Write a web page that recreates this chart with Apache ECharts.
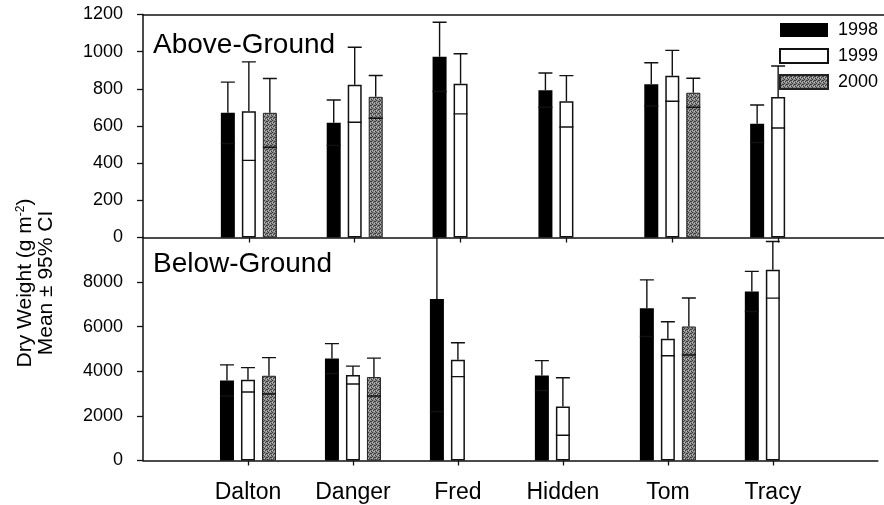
<!DOCTYPE html>
<html><head><meta charset="utf-8">
<script src="https://cdn.jsdelivr.net/npm/echarts@6/dist/echarts.min.js"></script>
<style>html,body{margin:0;padding:0;background:#fff}#c{width:884px;height:505px}</style>
</head><body><div id="c"></div>
<script>
// ---- data ----
var categories = ['Dalton', 'Danger', 'Fred', 'Hidden', 'Tom', 'Tracy'];
var years = ['1998', '1999', '2000'];
var aboveTicks = [0, 200, 400, 600, 800, 1000, 1200];
var belowTicks = [0, 2000, 4000, 6000, 8000];

var above1998 = [671, 618, 972, 793, 824, 612];
var above1998CI = [165, 122, 186, 92, 116, 101];
var above1999 = [680, 822, 827, 733, 870, 756];
var above1999CI = [265, 202, 162, 138, 137, 167];
var above2000 = [671, 757, null, null, 779, null];
var above2000CI = [185, 115, null, null, 78, null];

var below1998 = [3590, 4570, 7240, 3810, 6830, 7580];
var below1998CI = [700, 670, 5040, 670, 1270, 900];
var below1999 = [3620, 3830, 4520, 2420, 5460, 8550];
var below1999CI = [545, 400, 760, 1290, 760, 1270];
var below2000 = [3800, 3740, null, null, 6010, null];
var below2000CI = [815, 850, null, null, 1280, null];

// ---- styles ----
var FONT = "'Liberation Sans', Arial, Helvetica, sans-serif";
var INK = '#111';
var BAR_W = 14, BAR_STEP = 21;
var chart = echarts.init(document.getElementById('c'), null, { renderer: 'canvas' });
window.chart = chart;

try {
var pc = document.createElement('canvas');
pc.width = 4; pc.height = 4;
var pctx = pc.getContext('2d');
pctx.fillStyle = '#8a8a8a'; pctx.fillRect(0, 0, 4, 4);
pctx.fillStyle = '#3a3a3a';
[[0,0],[2,1],[1,2],[3,3],[3,1]].forEach(function (p) { pctx.fillRect(p[0], p[1], 1, 1); });
pctx.fillStyle = '#bdbdbd';
[[2,3],[0,2]].forEach(function (p) { pctx.fillRect(p[0], p[1], 1, 1); });

var yearStyles = [
  { color: '#000', borderColor: '#000', borderWidth: 0 },
  { color: '#fff', borderColor: INK, borderWidth: 1.5 },
  { color: { image: pc, repeat: 'repeat' }, borderColor: '#222', borderWidth: 1 }
];

var axisCats = [''].concat(categories, [' ']);
var panels = [
  { means: [above1998, above1999, above2000], cis: [above1998CI, above1999CI, above2000CI] },
  { means: [below1998, below1999, below2000], cis: [below1998CI, below1999CI, below2000CI] }
];

function makeRender(k) {
  return function (params, api) {
    var x = api.value(0), m = api.value(1), ci = api.value(2);
    var off = (k - 1) * BAR_STEP;
    var pm = api.coord([x, m]);
    var pu = api.coord([x, m + ci]);
    var pl = api.coord([x, m - ci]);
    var cx = pm[0] + off;
    var st = { stroke: INK, lineWidth: 1.4 };
    return {
      type: 'group', children: [
        { type: 'line', shape: { x1: cx, y1: pm[1], x2: cx, y2: pu[1] }, style: st },
        { type: 'line', shape: { x1: cx - BAR_W / 2, y1: pu[1], x2: cx + BAR_W / 2, y2: pu[1] }, style: st },
        { type: 'line', shape: { x1: cx - BAR_W / 2, y1: pl[1], x2: cx + BAR_W / 2, y2: pl[1] }, style: st }
      ]
    };
  };
}

var series = [];
panels.forEach(function (p, gi) {
  years.forEach(function (y, k) {
    series.push({
      name: y, type: 'bar', xAxisIndex: gi, yAxisIndex: gi,
      barWidth: BAR_W, barGap: '50%',
      itemStyle: yearStyles[k],
      data: categories.map(function (c, i) { return [i + 1, p.means[k][i]]; }).filter(function (d) { return d[1] != null; }),
      z: 2, silent: true
    });
  });
  years.forEach(function (y, k) {
    series.push({
      name: y + ' CI', type: 'custom', xAxisIndex: gi, yAxisIndex: gi, clip: true, z: 5, silent: true,
      data: categories.map(function (c, i) { return [i + 1, p.means[k][i], p.cis[k][i]]; }).filter(function (d) { return d[1] != null; }),
      renderItem: makeRender(k)
    });
  });
});

var axisLine = { show: true, lineStyle: { color: INK, width: 1.5 } };
function tickInner(i) { return i > 0 && i < axisCats.length - 1; }

var option = {
  animation: false,
  backgroundColor: '#fff',
  textStyle: { fontFamily: FONT, color: '#000' },
  grid: [
    { left: 143, top: 14.5, width: 742, height: 223 },
    { left: 143, top: 237.5, width: 742, height: 223 }
  ],
  xAxis: [
    { type: 'category', gridIndex: 0, data: axisCats, boundaryGap: false, axisLine: axisLine,
      axisTick: { show: true, inside: false, length: 5, interval: tickInner, lineStyle: { color: INK, width: 1.3 } },
      axisLabel: { show: false }, splitLine: { show: false } },
    { type: 'category', gridIndex: 1, data: axisCats, boundaryGap: false, axisLine: axisLine,
      axisTick: { show: true, inside: false, length: 5, interval: tickInner, lineStyle: { color: INK, width: 1.3 } },
      axisLabel: { show: true, interval: 0, margin: 21, fontSize: 23, fontFamily: FONT, color: '#000' },
      splitLine: { show: false } },
    { type: 'category', gridIndex: 0, position: 'top', data: axisCats, boundaryGap: false, axisLine: axisLine,
      axisTick: { show: false }, axisLabel: { show: false } }
  ],
  yAxis: [
    { type: 'value', gridIndex: 0, min: aboveTicks[0], max: aboveTicks[aboveTicks.length - 1], interval: 200,
      axisLine: axisLine, axisTick: { show: true, inside: false, length: 6, lineStyle: { color: INK, width: 1.3 } },
      axisLabel: { fontSize: 18, margin: 20, fontFamily: FONT, color: '#000',
        formatter: function (v) { return String(v); } },
      splitLine: { show: false } },
    { type: 'value', gridIndex: 1, min: belowTicks[0], max: 10000, interval: 2000,
      axisLine: axisLine, axisTick: { show: true, inside: false, length: 6, lineStyle: { color: INK, width: 1.3 } },
      axisLabel: { fontSize: 18, margin: 20, fontFamily: FONT, color: '#000', showMaxLabel: false,
        formatter: function (v) { return belowTicks.indexOf(v) >= 0 ? String(v) : ''; } },
      splitLine: { show: false } }
  ],
  legend: {
    data: years.map(function (y) { return { name: y, icon: 'rect' }; }),
    orient: 'vertical', left: 779, top: 21, padding: 0,
    itemWidth: 48, itemHeight: 14, itemGap: 8, selectedMode: false,
    textStyle: { fontSize: 18, fontFamily: FONT, color: '#000', padding: [0, 0, 0, 5] }
  },
  graphic: [
    { type: 'text', left: 153, top: 31, silent: true,
      style: { text: 'Above-Ground', font: '28px ' + FONT, fill: '#000' } },
    { type: 'text', left: 153, top: 250, silent: true,
      style: { text: 'Below-Ground', font: '28px ' + FONT, fill: '#000' } },
    { type: 'text', x: 36, y: 283, rotation: Math.PI / 2, silent: true,
      style: {
        text: '{a|Dry Weight (g m}{s|-2}{a|)}\n{a|Mean \u00b1 95% CI}',
        align: 'center', verticalAlign: 'middle', fill: '#000',
        rich: {
          a: { fontSize: 21, fontFamily: FONT, lineHeight: 21, fill: '#000' },
          s: { fontSize: 12, fontFamily: FONT, lineHeight: 21, verticalAlign: 'top', fill: '#000' }
        }
      } }
  ],
  series: series
};
chart.setOption(option);
} catch (e) {
  document.body.insertAdjacentHTML('beforeend', '<pre style="position:absolute;top:0;left:0;color:red">' + (e && e.stack || e) + '</pre>');
}
</script>
</body></html>
